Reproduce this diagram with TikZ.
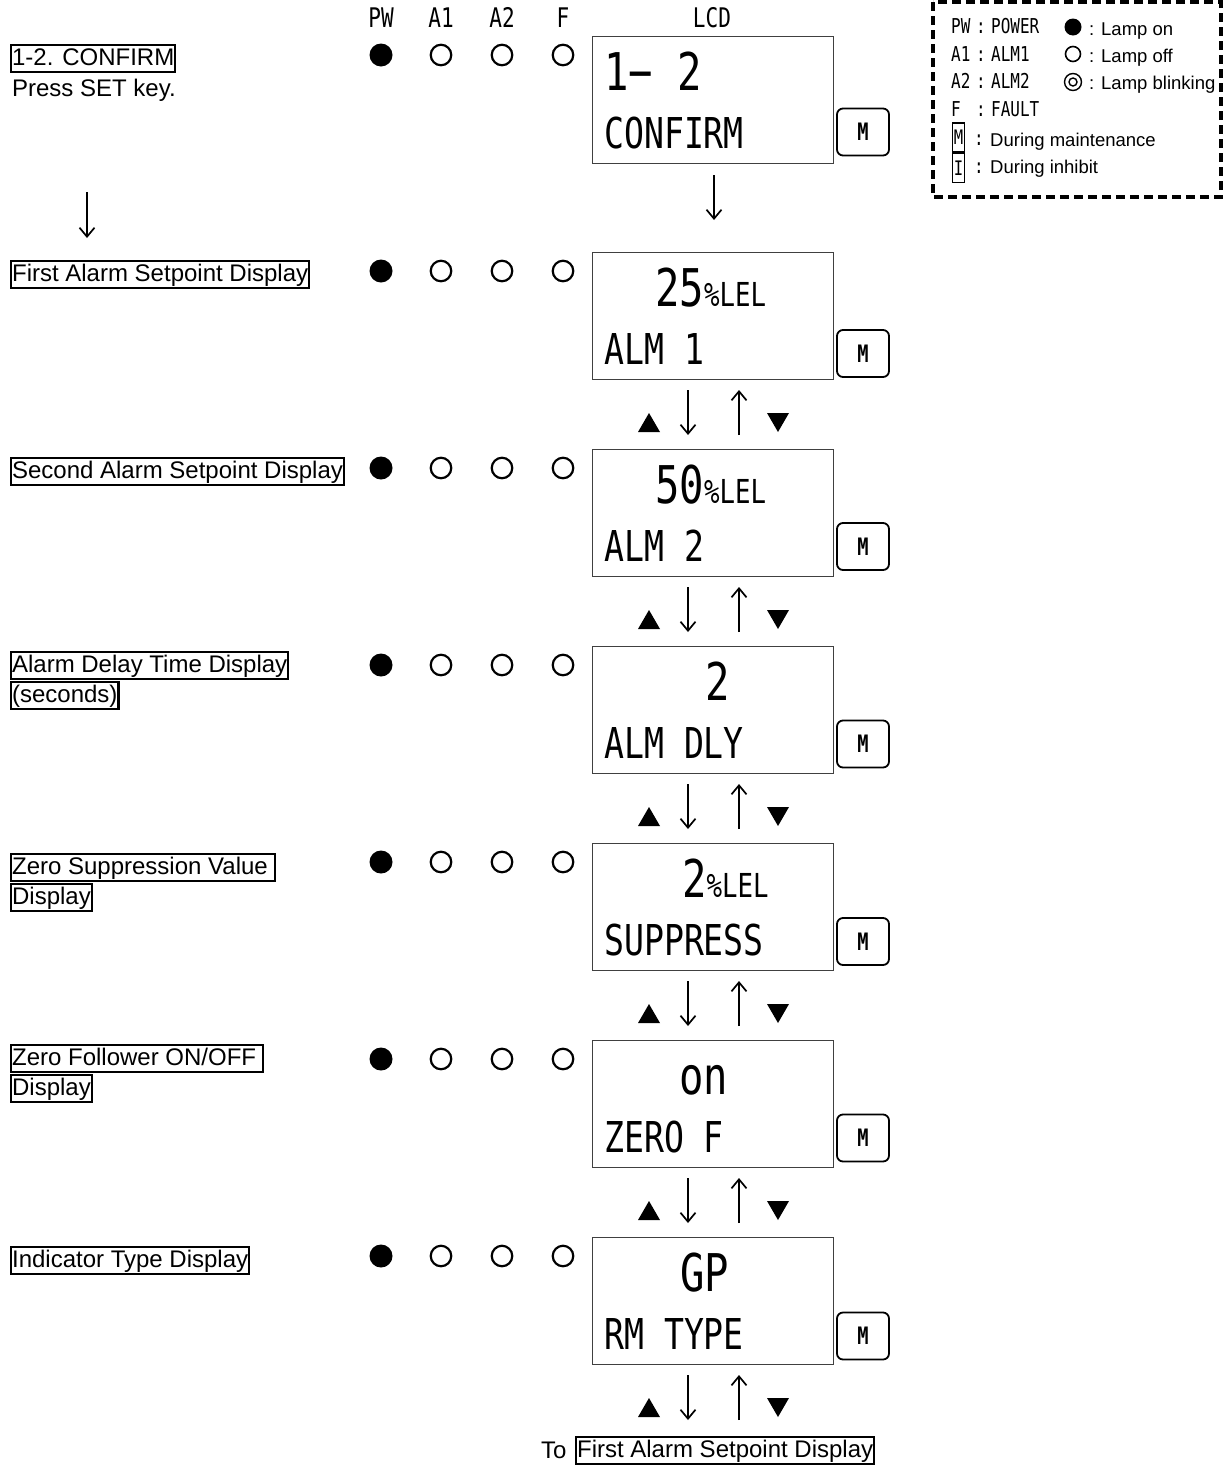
\documentclass[tikz,border=0pt]{standalone}
\usepackage{fontspec}
\setmainfont{Liberation Sans}
\newfontfamily\lcd[FakeStretch=0.78]{DejaVu Sans Mono}
\usetikzlibrary{arrows.meta}
\newcommand\lcdA{\fontsize{52}{52}\lcd}
\newcommand\lcdB{\fontsize{33}{33}\lcd}
\newcommand\lcdC{\fontsize{42.5}{42.5}\lcd}
\begin{document}
\begin{tikzpicture}[x=1pt,y=-1pt,
  lbl/.style={draw, line width=2.2pt, anchor=north west, inner xsep=1pt, inner ysep=1pt,
    text height=19pt, text depth=5.5pt, font=\fontsize{24}{28}\selectfont},
  plainlbl/.style={lbl, draw=none},
  lcdbox/.style={draw=black!75, line width=1pt, anchor=north west, minimum width=241pt,
    minimum height=127pt, inner sep=0pt},
  lcdtxt/.style={anchor=base west, inner sep=0pt},
  mbtn/.style={draw, line width=1.8pt, rounded corners=6pt, minimum width=52pt,
    minimum height=47pt, inner sep=0pt, font=\fontsize{24}{24}\lcd\bfseries},
  lampon/.style={circle, fill=black, minimum size=23pt, inner sep=0pt},
  lampoff/.style={circle, draw, line width=2.2pt, minimum size=20.5pt, inner sep=0pt},
  arr/.style={-{Straight Barb[length=9pt,width=15pt,line width=1.7pt]}, line width=1.7pt},
  hdr/.style={anchor=base, inner sep=0pt, font=\fontsize{27}{27}\lcd},
  leg/.style={anchor=base west, inner sep=0pt, font=\fontsize{20.5}{20.5}\lcd},
  legtxt/.style={anchor=base west, inner sep=0pt, font=\fontsize{18.5}{20}\selectfont},
  legbox/.style={draw, line width=1.2pt, minimum width=12pt, minimum height=29pt, inner sep=0pt,
    font=\fontsize{20}{20}\lcd}
]
\useasboundingbox (0,0) rectangle (1224,1465);

% headers
\node[hdr] (hPW) at (381,27) {PW};
\node[hdr] (hA1) at (441,27) {A1};
\node[hdr] (hA2) at (502,27) {A2};
\node[hdr] (hF) at (563,27) {F};
\node[hdr] (hLCD) at (712,27) {LCD};

% rows
\foreach \t/\my/\xa/\la/\lb/\i in {
  36/132/604/{\lcdA 1− 2}/{CONFIRM}/1,
  252/353.5/655/{\lcdA 25\lcdB\%LEL}/{ALM 1}/2,
  449/546.5/655/{\lcdA 50\lcdB\%LEL}/{ALM 2}/3,
  646/744/705/{\lcdA 2}/{ALM DLY}/4,
  843/941.5/682/{\lcdA 2\lcdB\%LEL}/{SUPPRESS}/5,
  1040/1138/679/{\lcdA on}/{ZERO F}/6,
  1237/1336/680/{\lcdA GP}/{RM TYPE}/7}{
  \node[lcdbox] (lcd\i) at (592,\t) {};
  \node[lcdtxt] (la\i) at (\xa,\t+54) {\la};
  \node[lcdtxt, font=\lcdC] (lb\i) at (604,\t+112) {\lb};
  \node[mbtn] (m\i) at (863,\my) {M};
  \node[lampon] (pw\i) at (381,\t+19) {};
  \node[lampoff] (a1\i) at (441,\t+19) {};
  \node[lampoff] (a2\i) at (502,\t+19) {};
  \node[lampoff] (f\i) at (563,\t+19) {};
}

% step arrows
\coordinate (s1a) at (714,175);
\coordinate (s1b) at (714,220);
\draw[arr] (s1a) -- (s1b);
\coordinate (l1a) at (87,192);
\coordinate (l1b) at (87,238);
\draw[arr] (l1a) -- (l1b);

\foreach \t/\i in {252/2,449/3,646/4,843/5,1040/6,1237/7}{
  \coordinate (dn\i a) at (688,\t+138);
  \coordinate (dn\i b) at (688,\t+183);
  \coordinate (up\i a) at (739,\t+183);
  \coordinate (up\i b) at (739,\t+138);
  \draw[arr] (dn\i a) -- (dn\i b);
  \draw[arr] (up\i a) -- (up\i b);
  \fill (638,\t+180) -- (660,\t+180) -- (649,\t+161) -- cycle;
  \fill (767,\t+161) -- (789,\t+161) -- (778,\t+180) -- cycle;
}

% left labels
\node[lbl] (t1) at (10,44) {1-2. CONFIRM};
\node[plainlbl] (t1b) at (10,75) {Press SET key.};
\node[lbl] (t2) at (10,260) {First Alarm Setpoint Display};
\node[lbl] (t3) at (10,457) {Second Alarm Setpoint Display};
\node[lbl] (t4) at (10,651) {Alarm Delay Time Display};
\node[lbl] (t4b) at (10,681) {(seconds)};
\node[lbl] (t5) at (10,853) {Zero Suppression Value\hspace*{6pt}};
\node[lbl] (t5b) at (10,883) {Display};
\node[lbl] (t6) at (10,1044) {Zero Follower ON/OFF\hspace*{6pt}};
\node[lbl] (t6b) at (10,1074) {Display};
\node[lbl] (t7) at (10,1246) {Indicator Type Display};

% bottom
\node[anchor=base west, inner sep=0pt, font=\fontsize{24}{28}\selectfont] (to) at (541,1458) {To};
\node[lbl] (tofirst) at (575,1436) {First Alarm Setpoint Display};

% legend
\draw[line width=3.4pt, dash pattern=on 9pt off 5pt] (933,2) rectangle (1221,197);
\node[leg] (gPW) at (951,33) {PW};
\node[leg] (gc1) at (976,33) {:};
\node[leg] (gP) at (991,33) {POWER};
\node[leg] (gA1) at (951,61) {A1};
\node[leg] (gc2) at (976,61) {:};
\node[leg] (gA) at (991,61) {ALM1};
\node[leg] (gA2) at (951,88) {A2};
\node[leg] (gc3) at (976,88) {:};
\node[leg] (gB) at (991,88) {ALM2};
\node[leg] (gF) at (951,116) {F};
\node[leg] (gc4) at (976,116) {:};
\node[leg] (gFa) at (991,116) {FAULT};

\node[circle, fill=black, minimum size=17pt, inner sep=0pt] (c1) at (1073,27) {};
\node[circle, draw, line width=1.6pt, minimum size=15pt, inner sep=0pt] (c2) at (1073,54) {};
\node[circle, draw, line width=1.4pt, minimum size=17pt, inner sep=0pt] (c3) at (1073,82) {};
\node[circle, draw, line width=1.4pt, minimum size=8pt, inner sep=0pt] (c3i) at (1073,82) {};
\node[legtxt] (k1) at (1089,35) {: Lamp on};
\node[legtxt] (k2) at (1089,62) {: Lamp off};
\node[legtxt] (k3) at (1089,89) {: Lamp blinking};

\node[legbox] (bM) at (958.5,137.5) {M};
\node[legbox] (bI) at (958.5,168) {I};
\node[leg] (gc5) at (974,145) {:};
\node[legtxt] (k4) at (990,146) {During maintenance};
\node[leg] (gc6) at (974,173) {:};
\node[legtxt] (k5) at (990,173) {During inhibit};
\end{tikzpicture}
\end{document}
